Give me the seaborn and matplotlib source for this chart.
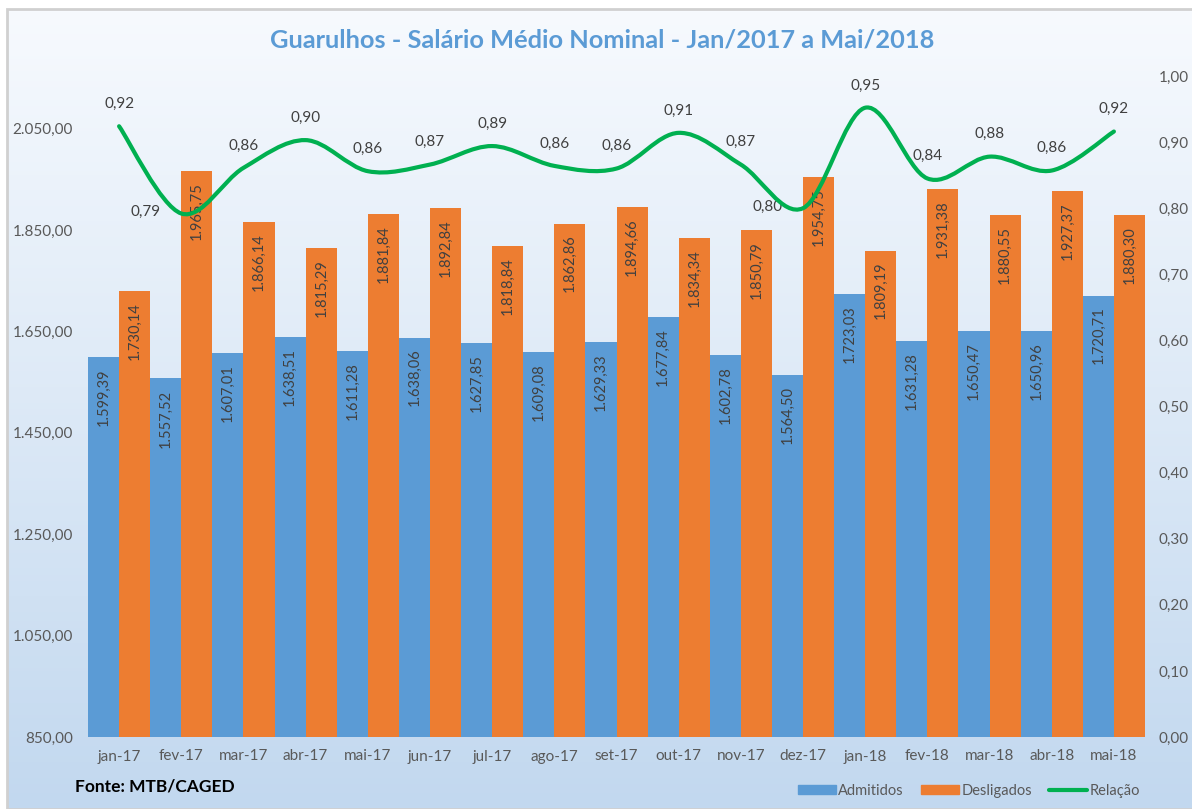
import matplotlib.pyplot as plt
import numpy as np
import pandas as pd
import seaborn as sns
from matplotlib.lines import Line2D
from matplotlib.patches import Patch, PathPatch, Rectangle
from matplotlib.path import Path

meses = ['jan-17', 'fev-17', 'mar-17', 'abr-17', 'mai-17', 'jun-17', 'jul-17', 'ago-17', 'set-17',
         'out-17', 'nov-17', 'dez-17', 'jan-18', 'fev-18', 'mar-18', 'abr-18', 'mai-18']
admitidos = [1599.39, 1557.52, 1607.01, 1638.51, 1611.28, 1638.06, 1627.85, 1609.08, 1629.33,
             1677.84, 1602.78, 1564.50, 1723.03, 1631.28, 1650.47, 1650.96, 1720.71]
desligados = [1730.14, 1965.75, 1866.14, 1815.29, 1881.84, 1892.84, 1818.84, 1862.86, 1894.66,
              1834.34, 1850.79, 1954.75, 1809.19, 1931.38, 1880.55, 1927.37, 1880.30]
relacao = [0.924, 0.792, 0.861, 0.903, 0.856, 0.866, 0.894, 0.864, 0.860,
           0.914, 0.866, 0.800, 0.952, 0.845, 0.878, 0.857, 0.916]
left_ticks = [850, 1050, 1250, 1450, 1650, 1850, 2050]
right_ticks = [0.0, 0.1, 0.2, 0.3, 0.4, 0.5, 0.6, 0.7, 0.8, 0.9, 1.0]

AZUL = '#5B9BD5'
LARANJA = '#ED7D31'
VERDE = '#00B050'
CINZA = '#595959'


def br(v, d=2):
    s = f'{v:,.{d}f}'
    return s.replace(',', 'X').replace('.', ',').replace('X', '.')


sns.set_style('white')
plt.rcParams['font.family'] = ['Lato', 'DejaVu Sans']

fig = plt.figure(figsize=(11.92, 8.09), dpi=100)

# background gradient + border
bg = fig.add_axes([0, 0, 1, 1], zorder=-10)
grad = np.linspace(0, 1, 256).reshape(-1, 1)
top = np.array([247, 250, 254]) / 255
bot = np.array([194, 216, 239]) / 255
img = top + (bot - top) * grad[..., None]
bg.imshow(np.repeat(img, 2, axis=1), aspect='auto', extent=[7 / 1192, 1, 0, 1 - 9 / 809])
bg.set_xlim(0, 1)
bg.set_ylim(0, 1)
bg.add_patch(Rectangle((7 / 1192, 0), 1, 1 - 9 / 809, fill=False, edgecolor='#D0D0D0', lw=2))
bg.axis('off')

ax = fig.add_axes([88 / 1192, 1 - 737 / 809, (1145 - 88) / 1192, (737 - 76) / 809])
ax.patch.set_alpha(0)

df = pd.DataFrame({
    'mes': meses * 2,
    'valor': admitidos + desligados,
    'tipo': ['Admitidos'] * len(meses) + ['Desligados'] * len(meses),
})
sns.barplot(data=df, x='mes', y='valor', hue='tipo', palette=[AZUL, LARANJA],
            width=1.0, gap=0, ax=ax, legend=False, saturation=1, edgecolor='none')

for cont in ax.containers:
    for bar in cont:
        h = bar.get_height()
        ax.annotate(br(h), (bar.get_x() + bar.get_width() / 2, h), xytext=(0, -8),
                    textcoords='offset points', rotation=90, ha='center', va='top',
                    fontsize=10.5, color='#404040')

ax.set_ylim(850, 2154)
ax.set_yticks(left_ticks)
ax.set_yticklabels([br(v) for v in left_ticks])
ax.set_xlim(-0.5, len(meses) - 0.5)
ax.set_xlabel('')
ax.set_ylabel('')
ax.tick_params(axis='both', length=0, labelcolor=CINZA, labelsize=11)
ax.tick_params(axis='y', pad=11)
ax.tick_params(axis='x', pad=9)
for s in ax.spines.values():
    s.set_visible(False)

ax2 = ax.twinx()
ax2.set_ylim(0, 1.0)
ax2.set_yticks(right_ticks)
ax2.set_yticklabels([br(v) for v in right_ticks])
ax2.tick_params(axis='y', length=0, labelcolor=CINZA, labelsize=11, pad=10)
for s in ax2.spines.values():
    s.set_visible(False)

# smoothed line (Catmull-Rom as cubic Bezier segments)
pts = np.column_stack([np.arange(len(relacao)), relacao])
verts = [pts[0]]
codes = [Path.MOVETO]
n = len(pts)
for i in range(n - 1):
    p0 = pts[max(i - 1, 0)]
    p1 = pts[i]
    p2 = pts[i + 1]
    p3 = pts[min(i + 2, n - 1)]
    verts += [p1 + (p2 - p0) / 6, p2 - (p3 - p1) / 6, p2]
    codes += [Path.CURVE4] * 3
ax2.add_patch(PathPatch(Path(verts, codes), facecolor='none', edgecolor=VERDE, lw=3,
                        capstyle='round', zorder=5))

for i, v in enumerate(relacao):
    if i in (1, 11):
        ax2.annotate(br(v), (i, v), xytext=(-15, 1), textcoords='offset points',
                     ha='right', va='center', fontsize=11, color='#404040')
    else:
        ax2.annotate(br(v), (i, v), xytext=(0, 11), textcoords='offset points',
                     ha='center', va='bottom', fontsize=11, color='#404040')

fig.text(602 / 1192, 1 - 40 / 809, 'Guarulhos - Salário Médio Nominal - Jan/2017 a Mai/2018',
         ha='center', va='center', fontsize=18.3, fontweight='bold', color=AZUL)
fig.text(75 / 1192, 1 - 787 / 809, 'Fonte: MTB/CAGED', ha='left', va='center',
         fontsize=12.5, fontweight='bold', color='black')

handles = [Patch(color=AZUL), Patch(color=LARANJA), Line2D([], [], color=VERDE, lw=3)]
fig.legend(handles, ['Admitidos', 'Desligados', 'Relação'], loc='center right',
           bbox_to_anchor=(1140 / 1192, 1 - 791 / 809), ncol=3, frameon=False,
           fontsize=10.5, labelcolor=CINZA, handlelength=2.6, handleheight=0.6,
           columnspacing=1.2, handletextpad=0.15, borderpad=0, borderaxespad=0)

fig.savefig('out.png', dpi=100)
